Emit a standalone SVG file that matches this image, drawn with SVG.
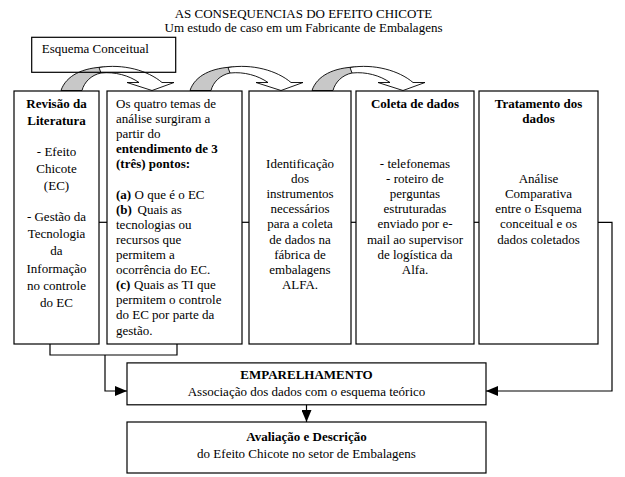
<svg xmlns="http://www.w3.org/2000/svg" width="625" height="477" viewBox="0 0 625 477">
<style>
text{font-family:"Liberation Serif","Times New Roman",serif;font-size:13px;fill:#000}
.b{font-weight:bold}
.c{text-anchor:middle}
.box{fill:none;stroke:#000;stroke-width:1.2}
.ln{fill:none;stroke:#000;stroke-width:1.2}
.gray{fill:#c8c8c8;stroke:#000;stroke-width:0.9}
.wht{fill:#fff;stroke:#000;stroke-width:0.9}
</style>
<defs>
<marker id="ah" markerWidth="12" markerHeight="10" refX="12" refY="5" orient="auto" markerUnits="userSpaceOnUse">
<path d="M0,0 L12,5 L0,10 Z" fill="#000"/>
</marker>
<g id="curved">
<path class="gray" d="M0,0 C5,-15 22,-23 44,-23.5 L40,-17.5 C30,-15.5 23,-8 21,0 Z"/>
<path class="wht" d="M38,-23 C62,-27 87,-20 101,-8 L113,-8 L91,0 L66,-8 L78,-8 C68,-15 54,-19 40,-17.5 Z"/>
</g>
</defs>

<g id="title">
<text class="c" x="303.5" y="17.5">AS CONSEQUENCIAS DO EFEITO CHICOTE</text>
<text class="c" x="303.5" y="31.7">Um estudo de caso em um Fabricante de Embalagens</text>
</g>

<g id="curved-arrows">
<use href="#curved" x="61" y="90.5"/>
<use href="#curved" x="190" y="90.5"/>
<use href="#curved" x="312" y="90.5"/>
</g>

<g id="esquema">
<rect class="box" x="31.7" y="37.3" width="144" height="35"/>
<text x="41.7" y="53.3">Esquema Conceitual</text>
</g>

<g id="connectors">
<line class="ln" x1="99" y1="222.3" x2="107" y2="222.3"/>
<line class="ln" x1="242" y1="222.3" x2="249" y2="222.3"/>
<line class="ln" x1="351" y1="222.3" x2="356" y2="222.3"/>
<line class="ln" x1="474" y1="222.3" x2="479" y2="222.3"/>
<polyline class="ln" points="598,222.3 612,222.3 612,391 486,391" marker-end="url(#ah)"/>
<polyline class="ln" points="50,344 50,355 177,355 177,344"/>
<polyline class="ln" points="105,355 105,391 127,391" marker-end="url(#ah)"/>
<line class="ln" x1="306.5" y1="404.8" x2="306.5" y2="422" marker-end="url(#ah)"/>
</g>

<g id="revisao">
<rect class="box" x="14" y="91" width="85" height="253"/>
<text class="c b" x="56.5" y="108">Revisão da</text>
<text class="c b" x="56.5" y="125.3">Literatura</text>
<text class="c" x="56.5" y="155.7">- Efeito</text>
<text class="c" x="56.5" y="173">Chicote</text>
<text class="c" x="56.5" y="190.3">(EC)</text>
<text class="c" x="56.5" y="220.7">- Gestão da</text>
<text class="c" x="56.5" y="238">Tecnologia</text>
<text class="c" x="56.5" y="255.3">da</text>
<text class="c" x="56.5" y="272.6">Informação</text>
<text class="c" x="56.5" y="289.9">no controle</text>
<text class="c" x="56.5" y="307.2">do EC</text>
</g>

<g id="temas">
<rect class="box" x="107" y="91" width="135" height="253"/>
<text x="116" y="108">Os quatro temas de</text>
<text x="116" y="123.1">análise surgiram a</text>
<text x="116" y="138.2">partir do</text>
<text class="b" x="116" y="153.3">entendimento de 3</text>
<text class="b" x="116" y="168.4">(três) pontos:</text>
<text x="116" y="198.6"><tspan class="b">(a)</tspan><tspan x="134.5">O que é o EC</tspan></text>
<text x="116" y="213.7"><tspan class="b">(b)</tspan><tspan x="137.5">Quais as</tspan></text>
<text x="116" y="228.8">tecnologias ou</text>
<text x="116" y="243.9">recursos que</text>
<text x="116" y="259">permitem a</text>
<text x="116" y="274.1">ocorrência do EC.</text>
<text x="116" y="289.2"><tspan class="b">(c)</tspan><tspan x="134">Quais as TI que</tspan></text>
<text x="116" y="304.3">permitem o controle</text>
<text x="116" y="319.4">do EC por parte da</text>
<text x="116" y="334.5">gestão.</text>
</g>

<g id="identificacao">
<rect class="box" x="249" y="91" width="102" height="253"/>
<text class="c" x="300" y="168">Identificação</text>
<text class="c" x="300" y="183.1">dos</text>
<text class="c" x="300" y="198.2">instrumentos</text>
<text class="c" x="300" y="213.3">necessários</text>
<text class="c" x="300" y="228.4">para a coleta</text>
<text class="c" x="300" y="243.5">de dados na</text>
<text class="c" x="300" y="258.6">fábrica de</text>
<text class="c" x="300" y="273.7">embalagens</text>
<text class="c" x="300" y="288.8">ALFA.</text>
</g>

<g id="coleta">
<rect class="box" x="356" y="91" width="118" height="253"/>
<text class="c b" x="415" y="108">Coleta de dados</text>
<text class="c" x="415" y="168">- telefonemas</text>
<text class="c" x="415" y="183.1">- roteiro de</text>
<text class="c" x="415" y="198.2">perguntas</text>
<text class="c" x="415" y="213.3">estruturadas</text>
<text class="c" x="415" y="228.4">enviado por e-</text>
<text class="c" x="415" y="243.5">mail ao supervisor</text>
<text class="c" x="415" y="258.6">de logística da</text>
<text class="c" x="415" y="273.7">Alfa.</text>
</g>

<g id="tratamento">
<rect class="box" x="479" y="91" width="119" height="253"/>
<text class="c b" x="538.5" y="108">Tratamento dos</text>
<text class="c b" x="538.5" y="123">dados</text>
<text class="c" x="538.5" y="183.1">Análise</text>
<text class="c" x="538.5" y="198.2">Comparativa</text>
<text class="c" x="538.5" y="213.3">entre o Esquema</text>
<text class="c" x="538.5" y="228.4">conceitual e os</text>
<text class="c" x="538.5" y="243.5">dados coletados</text>
</g>

<g id="emparelhamento">
<rect class="box" x="127" y="362.9" width="359" height="41.9"/>
<text class="c b" x="306.5" y="378.5">EMPARELHAMENTO</text>
<text class="c" x="306.5" y="396">Associação dos dados com o esquema teórico</text>
</g>

<g id="avaliacao">
<rect class="box" x="127" y="422" width="359" height="51"/>
<text class="c b" x="306.5" y="441">Avaliação e Descrição</text>
<text class="c" x="306.5" y="457.5">do Efeito Chicote no setor de Embalagens</text>
</g>
</svg>
